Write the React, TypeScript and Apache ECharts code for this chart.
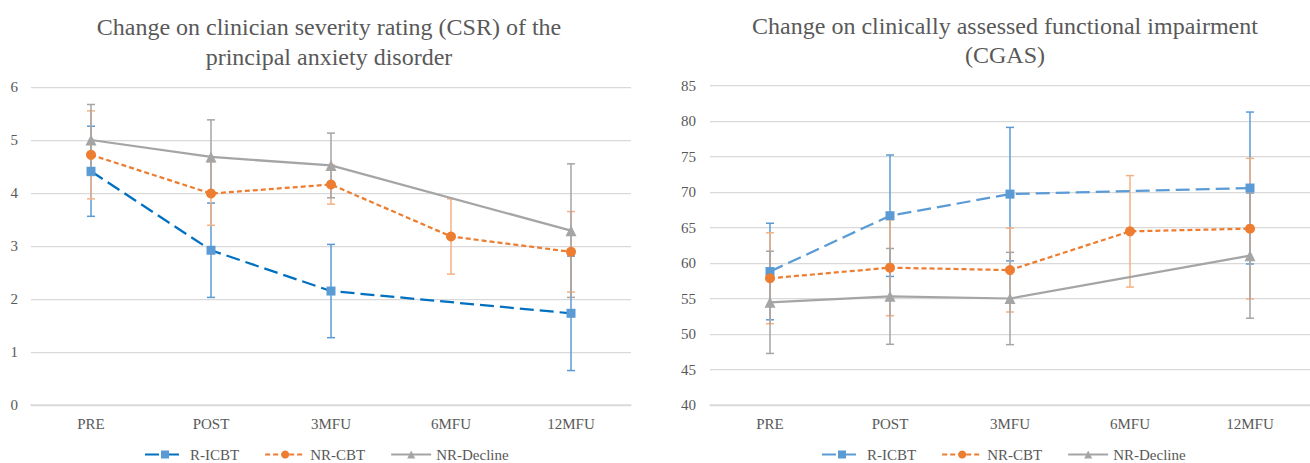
import React, { useEffect, useRef } from "react";
import * as echarts from "echarts";

const categories = ["PRE", "POST", "3MFU", "6MFU", "12MFU"];
const seriesNames = ["R-ICBT", "NR-CBT", "NR-Decline"];

// Left chart: CSR
const csrRICBT = [4.41, 2.92, 2.15, null, 1.73];
const csrRICBTErr = [0.85, 0.89, 0.88, null, 1.08];
const csrNRCBT = [4.72, 3.99, 4.16, 3.18, 2.89];
const csrNRCBTErr = [0.83, 0.6, 0.37, 0.71, 0.76];
const csrNRDecline = [5.0, 4.68, 4.52, null, 3.29];
const csrNRDeclineErr = [0.67, 0.7, 0.61, null, 1.26];

// Right chart: CGAS
const cgasRICBT = [58.8, 66.66, 69.7, null, 70.56];
const cgasRICBTErr = [6.8, 8.55, 9.4, null, 10.7];
const cgasNRCBT = [57.85, 59.34, 59.0, 64.46, 64.84];
const cgasNRCBTErr = [6.4, 6.76, 5.9, 7.85, 9.9];
const cgasNRDecline = [54.46, 55.3, 55.0, null, 61.03];
const cgasNRDeclineErr = [7.2, 6.75, 6.5, null, 8.8];

const leftTitle = "Change on clinician severity rating (CSR) of the\nprincipal anxiety disorder";
const rightTitle = "Change on clinically assessed functional impairment\n(CGAS)";

const FONT = "Liberation Serif";
const TXT = "#595959";
const GRID = "#D9D9D9";

function errData(vals: (number | null)[], errs: (number | null)[]) {
  const out: number[][] = [];
  vals.forEach((v, i) => {
    const e = errs[i];
    if (v != null && e != null) out.push([i, v - e, v + e]);
  });
  return out;
}

function errSeries(vals: (number | null)[], errs: (number | null)[], color: string, axis: number) {
  return {
    type: "custom",
    xAxisIndex: axis,
    yAxisIndex: axis,
    z: 1,
    silent: true,
    encode: { x: 0, y: [1, 2] },
    data: errData(vals, errs),
    renderItem: (params: any, api: any) => {
      const xi = api.value(0);
      const lo = api.coord([xi, api.value(1)]);
      const hi = api.coord([xi, api.value(2)]);
      const w = 4;
      const style = { stroke: color, lineWidth: 1.5 };
      return {
        type: "group",
        children: [
          { type: "line", shape: { x1: lo[0], y1: lo[1], x2: hi[0], y2: hi[1] }, style },
          { type: "line", shape: { x1: lo[0] - w, y1: lo[1], x2: lo[0] + w, y2: lo[1] }, style },
          { type: "line", shape: { x1: hi[0] - w, y1: hi[1], x2: hi[0] + w, y2: hi[1] }, style },
        ],
      };
    },
  };
}

function lineSeries(
  name: string,
  data: (number | null)[],
  lineColor: string,
  markColor: string,
  dash: any,
  symbol: string,
  size: number,
  axis: number
) {
  return {
    name,
    type: "line",
    xAxisIndex: axis,
    yAxisIndex: axis,
    z: 3,
    data,
    connectNulls: true,
    symbol,
    symbolSize: size,
    showAllSymbol: true,
    lineStyle: { color: lineColor, width: 2.25, type: dash },
    itemStyle: { color: markColor, borderWidth: 0 },
  };
}

export default function App() {
  const ref = useRef<HTMLDivElement>(null);
  useEffect(() => {
    if (!ref.current) return;
    const chart = echarts.init(ref.current, undefined, { renderer: "svg" });
    const axisLabel = { color: TXT, fontFamily: FONT, fontSize: 15 };
    const xAxisBase = {
      type: "category",
      data: categories,
      boundaryGap: true,
      axisLine: { lineStyle: { color: GRID, width: 1.5 } },
      axisTick: { show: false },
      axisLabel: { ...axisLabel, margin: 11 },
    };
    const yAxisBase = {
      type: "value",
      axisLine: { show: false },
      axisTick: { show: false },
      splitLine: { lineStyle: { color: GRID, width: 1.25 } },
    };
    const blueDash = [14, 6];
    const orangeDash = [5, 3];
    const legendText = { fontFamily: FONT, fontSize: 15, color: TXT };
    const legendBase = {
      top: 447,
      padding: 0,
      itemWidth: 40,
      itemHeight: 10,
      itemGap: 25,
      textStyle: legendText,
      formatter: (n: string) => n.trim(),
    };
    chart.setOption({
      animation: false,
      backgroundColor: "#ffffff",
      textStyle: { fontFamily: FONT },
      title: [
        {
          text: leftTitle,
          left: 324,
          top: 7,
          textAlign: "center",
          textStyle: { fontFamily: FONT, fontSize: 24, fontWeight: "normal", color: TXT, lineHeight: 30 },
        },
        {
          text: rightTitle,
          left: 1000,
          top: 6,
          textAlign: "center",
          textStyle: { fontFamily: FONT, fontSize: 24, fontWeight: "normal", color: TXT, lineHeight: 29 },
        },
      ],
      legend: [
        { ...legendBase, data: seriesNames, left: 144 },
        { ...legendBase, data: seriesNames.map((n) => n + " "), left: 821 },
      ],
      grid: [
        { left: 31, right: 679, top: 87, bottom: 58 },
        { left: 710, right: 0, top: 85.5, bottom: 58 },
      ],
      xAxis: [
        { ...xAxisBase, gridIndex: 0 },
        { ...xAxisBase, gridIndex: 1 },
      ],
      yAxis: [
        { ...yAxisBase, gridIndex: 0, min: 0, max: 6, interval: 1, axisLabel: { ...axisLabel, margin: 13 } },
        { ...yAxisBase, gridIndex: 1, min: 40, max: 85, interval: 5, axisLabel: { ...axisLabel, margin: 14 } },
      ],
      series: [
        lineSeries("R-ICBT", csrRICBT, "#0070C0", "#5B9BD5", blueDash, "rect", 9, 0),
        lineSeries("NR-CBT", csrNRCBT, "#ED7D31", "#ED7D31", orangeDash, "circle", 10, 0),
        lineSeries("NR-Decline", csrNRDecline, "#A5A5A5", "#A5A5A5", "solid", "triangle", 11, 0),
        errSeries(csrRICBT, csrRICBTErr, "#5B9BD5", 0),
        errSeries(csrNRCBT, csrNRCBTErr, "#F4B183", 0),
        errSeries(csrNRDecline, csrNRDeclineErr, "#A5A5A5", 0),
        lineSeries("R-ICBT ", cgasRICBT, "#5B9BD5", "#5B9BD5", blueDash, "rect", 9, 1),
        lineSeries("NR-CBT ", cgasNRCBT, "#ED7D31", "#ED7D31", orangeDash, "circle", 10, 1),
        lineSeries("NR-Decline ", cgasNRDecline, "#A5A5A5", "#A5A5A5", "solid", "triangle", 11, 1),
        errSeries(cgasRICBT, cgasRICBTErr, "#5B9BD5", 1),
        errSeries(cgasNRCBT, cgasNRCBTErr, "#F4B183", 1),
        errSeries(cgasNRDecline, cgasNRDeclineErr, "#A5A5A5", 1),
      ],
    });
    return () => chart.dispose();
  }, []);
  return (
    <div
      ref={ref}
      style={{ position: "absolute", left: 0, top: 0, width: 1310, height: 463 }}
    />
  );
}
